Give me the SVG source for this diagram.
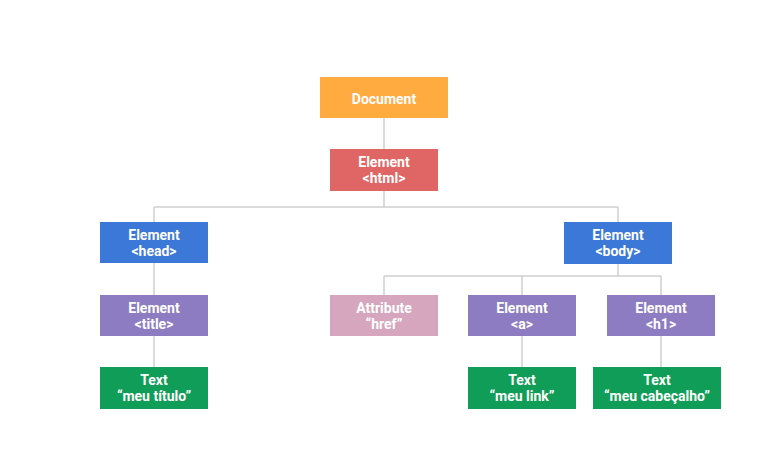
<svg xmlns="http://www.w3.org/2000/svg" width="784" height="476" viewBox="0 0 784 476">
<style>
.t{font-family:Roboto,"Liberation Sans",sans-serif;font-weight:bold;font-size:14px;fill:#fff;text-anchor:middle}
.c{stroke:#d0d0d0;stroke-width:1.5;fill:none}
</style>
<rect width="784" height="476" fill="#fff"/>
<g id="connectors" class="c">
<path d="M384 118V149M384 191V207M154 207H618M154 207V222M618 207V222"/>
<path d="M154 263V295M154 336V367"/>
<path d="M618 264V276M384 276H661M384 276V295M522 276V295M661 276V295"/>
<path d="M522 336V367M661 336V367"/>
</g>
<g id="document"><rect x="320" y="77" width="128" height="41" fill="#FFAB40"/><text class="t" x="384" y="103.5" font-size="16">Document</text></g>
<g id="html"><rect x="330" y="149" width="108" height="42" fill="#E06666"/><text class="t" x="384" y="167">Element</text><text class="t" x="384" y="183">&lt;html&gt;</text></g>
<g id="head"><rect x="100" y="222" width="108" height="41" fill="#3C78D8"/><text class="t" x="154" y="240">Element</text><text class="t" x="154" y="256">&lt;head&gt;</text></g>
<g id="body"><rect x="564" y="222" width="108" height="42" fill="#3C78D8"/><text class="t" x="618" y="240">Element</text><text class="t" x="618" y="256">&lt;body&gt;</text></g>
<g id="title"><rect x="100" y="295" width="108" height="41" fill="#8E7CC3"/><text class="t" x="154" y="313">Element</text><text class="t" x="154" y="329">&lt;title&gt;</text></g>
<g id="href"><rect x="330" y="295" width="108" height="41" fill="#D5A6BD"/><text class="t" x="384" y="313">Attribute</text><text class="t" x="384" y="329">“href”</text></g>
<g id="a"><rect x="468" y="295" width="108" height="41" fill="#8E7CC3"/><text class="t" x="522" y="313">Element</text><text class="t" x="522" y="329">&lt;a&gt;</text></g>
<g id="h1"><rect x="607" y="295" width="108" height="41" fill="#8E7CC3"/><text class="t" x="661" y="313">Element</text><text class="t" x="661" y="329">&lt;h1&gt;</text></g>
<g id="text-titulo"><rect x="100" y="367" width="108" height="42" fill="#0F9D58"/><text class="t" x="154" y="385">Text</text><text class="t" x="154" y="401">“meu título”</text></g>
<g id="text-link"><rect x="468" y="367" width="108" height="42" fill="#0F9D58"/><text class="t" x="522" y="385">Text</text><text class="t" x="522" y="401">“meu link”</text></g>
<g id="text-cabecalho"><rect x="593" y="367" width="128" height="42" fill="#0F9D58"/><text class="t" x="657" y="385">Text</text><text class="t" x="657" y="401">“meu cabeçalho”</text></g>
</svg>
